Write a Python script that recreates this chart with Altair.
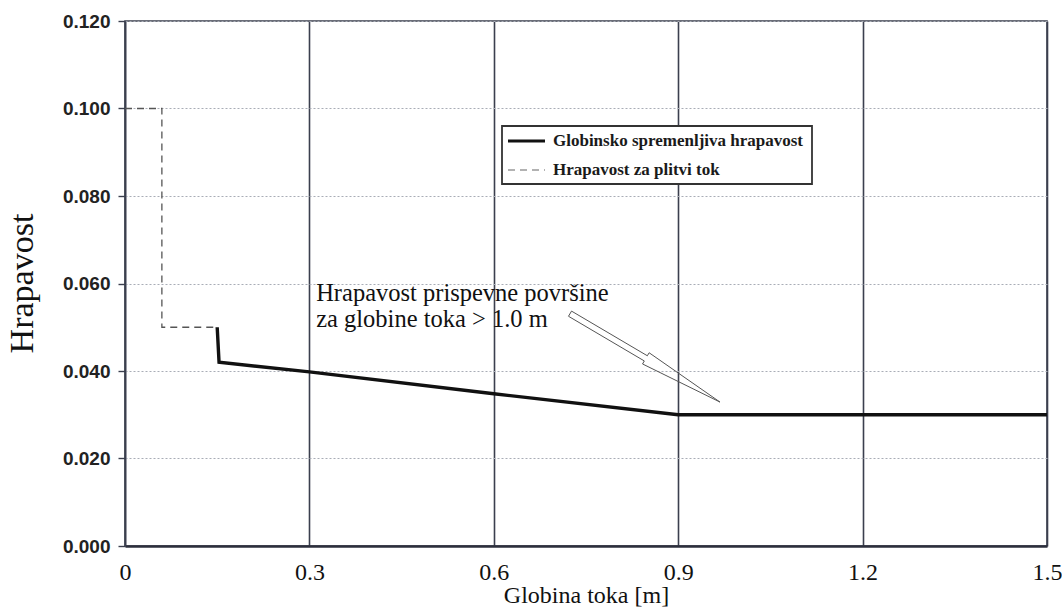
import math

import altair as alt
import pandas as pd

# Depth-dependent roughness curve: flow depth [m] and Manning roughness
depth_variable = [0.150, 0.153, 0.30, 0.60, 0.90, 1.50]
roughness_variable = [0.050, 0.042, 0.0398, 0.0348, 0.030, 0.030]

# Shallow-flow roughness (step curve)
depth_shallow = [0.0, 0.06, 0.06, 0.145]
roughness_shallow = [0.100, 0.100, 0.050, 0.050]

series_names = ["Globinsko spremenljiva hrapavost", "Hrapavost za plitvi tok"]

x_ticks = [0.0, 0.3, 0.6, 0.9, 1.2, 1.5]
y_ticks = [0.000, 0.020, 0.040, 0.060, 0.080, 0.100, 0.120]

x_title = "Globina toka [m]"
y_title = "Hrapavost"

# Annotation text and the hollow arrow pointing to the curve (data units)
note_lines = ["Hrapavost prispevne površine", "za globine toka > 1.0 m"]
note_at = (0.311, 0.0560)
arrow_tail = (0.724, 0.0531)
arrow_tip = (0.968, 0.0329)

# Plot area size (pixels) and scale domains
W, H = 922, 525
X_MAX, Y_MAX = 1.5, 0.12

DARK = "#3b3f4e"
SERIF = "Liberation Serif"
SANS = "Liberation Sans"

x_scale = alt.Scale(domain=[0, X_MAX], nice=False, zero=True)
y_scale = alt.Scale(domain=[0, Y_MAX], nice=False, zero=True)

df_var = pd.DataFrame({"d": depth_variable, "n": roughness_variable,
                       "k": range(len(depth_variable))})
df_sh = pd.DataFrame({"d": depth_shallow, "n": roughness_shallow,
                      "k": range(len(depth_shallow))})

x_axis = alt.Axis(
    values=x_ticks,
    labelExpr="datum.value == 0 ? '0' : format(datum.value, '.1f')",
    title=x_title,
)
y_axis = alt.Axis(values=y_ticks, format=".3f", title=y_title)

base_x = alt.X("d:Q", scale=x_scale, axis=x_axis)
base_y = alt.Y("n:Q", scale=y_scale, axis=y_axis)

solid = alt.Chart(df_var).mark_line(
    color="#111111", strokeWidth=3.4, strokeJoin="miter"
).encode(x=base_x, y=base_y, order="k:Q")

dashed = alt.Chart(df_sh).mark_line(
    color="#555555", strokeWidth=1.3, strokeDash=[7, 5]
).encode(x="d:Q", y="n:Q", order="k:Q")

# Annotation text
df_note = pd.DataFrame({"d": [note_at[0]], "n": [note_at[1]], "t": [note_lines]})
note = alt.Chart(df_note).mark_text(
    font=SERIF, fontSize=24.5, color="#111111", align="left",
    baseline="alphabetic", lineHeight=26,
).encode(x="d:Q", y="n:Q", text="t")

# Hollow block arrow: built in screen space from its tail and tip,
# then mapped back to data units
sx, sy = W / X_MAX, H / Y_MAX
tx, ty = arrow_tail[0] * sx, -arrow_tail[1] * sy
px, py = arrow_tip[0] * sx, -arrow_tip[1] * sy
length = math.hypot(px - tx, py - ty)
ux, uy = (px - tx) / length, (py - ty) / length
nx, ny = -uy, ux
shaft_half, barb_half, shaft_len = 3.0, 6.5, 88.0


def pt(s, w):
    return ((tx + ux * s + nx * w) / sx, -(ty + uy * s + ny * w) / sy)


outline = [
    pt(0, shaft_half), pt(shaft_len, shaft_half), pt(shaft_len, barb_half),
    pt(length, 0), pt(shaft_len, -barb_half), pt(shaft_len, -shaft_half),
    pt(0, -shaft_half), pt(0, shaft_half),
]
df_arrow = pd.DataFrame({"d": [p[0] for p in outline],
                         "n": [p[1] for p in outline],
                         "k": range(len(outline))})
arrow = alt.Chart(df_arrow).mark_line(
    color="#555555", strokeWidth=1.0, strokeJoin="miter"
).encode(x="d:Q", y="n:Q", order="k:Q")

# Legend box drawn in pixel space inside the plot
one = pd.DataFrame({"a": [0]})
legend_box = alt.Chart(one).mark_rect(
    fill="white", stroke="#333333", strokeWidth=1.8
).encode(x=alt.value(377), x2=alt.value(687), y=alt.value(105), y2=alt.value(163))

legend_solid = alt.Chart(one).mark_rule(
    color="#111111", strokeWidth=3.2
).encode(x=alt.value(383), x2=alt.value(420), y=alt.value(120))

legend_dash = alt.Chart(one).mark_rule(
    color="#666666", strokeWidth=1.2, strokeDash=[7, 5]
).encode(x=alt.value(383), x2=alt.value(420), y=alt.value(149))

legend_text = alt.Chart(pd.DataFrame({"label": series_names, "yy": [120, 149]})).mark_text(
    font=SERIF, fontSize=17, fontWeight="bold", color="#1a1a1a",
    align="left", baseline="middle",
).encode(x=alt.value(428), y=alt.Y("yy:Q", scale=None), text="label:N")

chart = alt.layer(
    solid, dashed, note, arrow, legend_box, legend_solid, legend_dash, legend_text
).properties(
    width=W, height=H,
    autosize=alt.AutoSizeParams(type="none"),
    padding={"left": 125, "top": 21, "right": 15, "bottom": 62},
    background="white",
).configure_view(
    stroke=DARK, strokeWidth=1.6
).configure_axisX(
    grid=True, gridColor=DARK, gridWidth=1.6, gridOpacity=1,
    domainColor="#2c2f3c", domainWidth=2.4,
    ticks=False,
    labelFont=SERIF, labelFontSize=24, labelColor="#111111",
    labelPadding=14, labelFlush=False,
    titleFont=SERIF, titleFontSize=24, titleFontWeight="normal",
    titleColor="#111111", titleBaseline="alphabetic", titleY=56,
).configure_axisY(
    grid=True, gridColor="#a9adb6", gridWidth=1, gridDash=[2, 2], gridOpacity=1,
    domainColor=DARK, domainWidth=1.6,
    ticks=True, tickSize=7, tickColor=DARK, tickWidth=1.4,
    labelFont=SANS, labelFontSize=19, labelFontWeight="bold",
    labelColor="#222222", labelPadding=8,
    titleFont=SERIF, titleFontSize=34, titleFontWeight="normal",
    titleColor="#111111", titleAngle=270, titleX=-103, titleY=262,
    titleAlign="center", titleBaseline="middle",
)

chart.save("out.html", embed_options={"renderer": "svg", "actions": False})
